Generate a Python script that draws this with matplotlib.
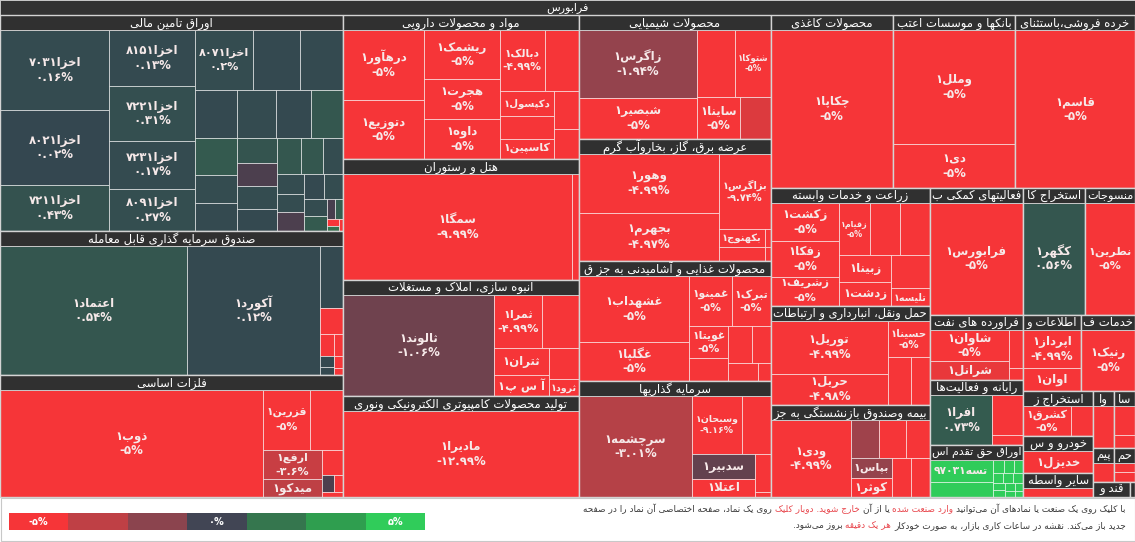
import matplotlib
matplotlib.use("Agg")
import matplotlib.pyplot as plt
from matplotlib.patches import Rectangle

# ---------------------------------------------------------------- data
root_title = "فرابورس"

sector_names = [
    "اوراق تامین مالی", "صندوق سرمایه گذاری قابل معامله", "فلزات اساسی",
    "مواد و محصولات دارویی", "هتل و رستوران", "انبوه سازی، املاک و مستغلات",
    "تولید محصولات کامپیوتری الکترونیکی ونوری", "محصولات شیمیایی",
    "عرضه برق، گاز، بخاروآب گرم", "محصولات غذایی و آشامیدنی به جز ق",
    "سرمایه گذاریها", "محصولات کاغذی", "بانکها و موسسات اعتب",
    "خرده فروشی،باستثنای", "زراعت و خدمات وابسته",
    "حمل ونقل، انبارداری و ارتباطات", "بیمه وصندوق بازنشستگی به جز",
    "فعالیتهای کمکی ب", "استخراج کا", "منسوجات", "فراورده های نفت",
    "رایانه و فعالیت‌ها", "اوراق حق تقدم اس", "اطلاعات و", "خدمات ف",
    "استخراج ز", "خودرو و س", "سایر واسطه", "وا", "سا", "پیم", "حم", "قند و", "",
]
sector_values = [
    74088, 49392, 41846, 33984, 28556, 27376, 23836, 23808, 23424, 23040,
    22272, 21106, 21106, 20760, 18762, 15741, 14628, 11811, 7874, 6350,
    6110, 6110, 4888, 4389, 4158, 3174, 2553, 1700, 1176, 1176, 714, 714, 555, 75,
]

# leaves per sector: (symbol, weight, change %)
s01 = [("اخزا۷۰۳۱", 8640, 0.16), ("اخزا۸۰۲۱", 7992, 0.02), ("اخزا۷۲۱۱", 4968, 0.43),
       ("اخزا۸۱۵۱", 4704, 0.13), ("اخزا۷۲۲۱", 4536, 0.31), ("اخزا۷۲۳۱", 4032, 0.17),
       ("اخزا۸۰۹۱", 3528, 0.27), ("اخزا۸۰۷۱", 3422, 0.2), ("", 2784, 0.1), ("", 2494, 0.15),
       ("", 2000, 0.12), ("", 1900, 0.18), ("", 1650, 0.1), ("", 1519, 0.6), ("", 1512, 0.7),
       ("", 1176, 0.2), ("", 1134, 0.15), ("", 960, 0.5), ("", 920, -0.3), ("", 880, 0.2),
       ("", 880, 0.1), ("", 850, 0.6), ("", 782, 0.6), ("", 714, 0.2), ("", 529, 0.2),
       ("", 500, 0.2), ("", 500, -0.3), ("", 483, 0.1), ("", 450, 0.2), ("", 391, 0.2),
       ("", 336, 0.7), ("", 168, -0.2), ("", 147, 0.8), ("", 80, -5), ("", 60, 1.5), ("", 50, -5)]
s02 = [("اعتماد۱", 24123, 0.54), ("آکورد۱", 17157, 0.12), ("", 1408, 0.1), ("", 572, -5),
       ("", 300, -5), ("", 200, -5), ("", 150, 0.1), ("", 120, 0.1), ("", 100, -5), ("", 60, -5)]
s03 = [("ذوب۱", 27510, -5), ("قزرین۱", 2784, -5), ("", 1914, -5), ("ارفع۱", 1653, -3.6),
       ("میدکو۱", 1026, -3.3), ("", 528, -5), ("", 200, -0.3), ("", 150, -5), ("", 100, -5)]
s04 = [("درهآور۱", 5589, -5), ("دتوزیع۱", 4698, -5), ("ریشمک۱", 3600, -5), ("هجرت۱", 3000, -5),
       ("داوه۱", 2925, -5), ("دبالک۱", 2700, -4.99), ("", 2040, -5), ("دکپسول۱", 1350, -5),
       ("", 1188, -5), ("کاسپین۱", 1080, -5), ("", 925, -5), ("", 725, -5)]
s05 = [("سمگا۱", 24045, -9.99), ("", 735, -5)]
s06 = [("ثالوند۱", 15251, -1.06), ("ثمرا۱", 2544, -4.99), ("", 1961, -5), ("ثتران۱", 1430, -5),
       ("آ س پ۱", 1155, -5), ("", 930, -5), ("ثرود۱", 510, -5)]
s07 = [("مادیرا۱", 20060, -12.99)]
s08 = [("زاگرس۱", 7839, -1.94), ("شبصیر۱", 4797, -5), ("", 2508, -5), ("شتوکا۱", 2310, -5),
       ("ساینا۱", 1806, -5), ("", 1260, -4.2)]
s09 = [("وهور۱", 8062, -4.99), ("بجهرم۱", 6672, -4.97), ("بزاگرس۱", 3848, -9.74),
       ("بکهنوج۱", 782, -5), ("", 644, -5), ("", 102, -5), ("", 84, -5)]
s10 = [("غشهداب۱", 7150, -5), ("غگلپا۱", 4290, -5), ("غمینو۱", 2100, -5), ("تبرک۱", 1950, -5),
       ("غویتا۱", 1216, -5), ("", 864, -5), ("", 836, -5), ("", 684, -5), ("", 540, -5), ("", 234, -5)]
s11 = [("سرچشمه۱", 11200, -3.01), ("وسبحان۱", 2793, -9.16), ("", 1653, -5), ("سدبیر۱", 1550, -0.8),
       ("اعتلا۱", 1116, -5), ("", 570, -5), ("", 75, -5)]
s12 = [("چکاپا۱", 1, -5)]
s13 = [("وملل۱", 13786, -5), ("دی۱", 5246, -5)]
s14 = [("قاسم۱", 1, -5)]
s15 = [("زکشت۱", 2584, -5), ("زفکا۱", 2380, -5), ("زشریف۱", 1972, -5), ("زقیام۱", 1612, -5),
       ("", 1560, -5), ("", 1508, -5), ("زبینا۱", 1352, -5), ("زدشت۱", 1248, -5), ("", 1216, -5),
       ("تلیسه۱", 684, -5)]
s16 = [("توریل۱", 6084, -4.99), ("حریل۱", 3627, -4.98), ("حسینا۱", 1512, -5), ("", 1081, -5), ("", 893, -5)]
s17 = [("ودی۱", 6000, -4.99), ("", 1044, -2.3), ("", 1008, -5), ("", 880, -5), ("بپاس۱", 800, -2.0),
       ("کوثر۱", 760, -5), ("", 741, -5), ("", 702, -5)]
s18 = [("فرابورس۱", 1, -5)]
s19 = [("کگهر۱", 1, 0.56)]
s20 = [("نطرین۱", 1, -5)]
s21 = [("شاوان۱", 2449, -5), ("شرانل۱", 1422, -4.6), ("", 532, -5), ("", 154, -5)]
s22 = [("افرا۱", 3038, 0.73), ("", 1209, -5), ("", 310, -5)]
s23 = [("تسه۹۷۰۳۱", 1426, 5), ("", 930, 5), ("", 150, 5), ("", 130, 5), ("", 120, 5), ("", 110, 5),
       ("", 100, 5), ("", 100, 5), ("", 90, 5), ("", 90, 5), ("", 80, 5), ("", 70, 5), ("", 60, 5), ("", 50, 5)]
s24 = [("اپرداز۱", 2128, -4.99), ("اوان۱", 1288, -5)]
s25 = [("رنیک۱", 1, -5)]
s26 = [("کشرق۱", 1288, -5), ("", 616, -5)]
s27 = [("خدیزل۱", 1, -5)]
s28 = [("", 1, -5)]
s29 = [("", 1, -5)]
s30 = [("", 600, -5), ("", 250, -5)]
s31 = [("", 1, -5)]
s32 = [("", 200, -5), ("", 200, -5)]
s33 = [("", 1, -5)]
s34 = [("", 1, -5)]
sector_leaves = [s01, s02, s03, s04, s05, s06, s07, s08, s09, s10, s11, s12, s13, s14, s15, s16, s17,
                 s18, s19, s20, s21, s22, s23, s24, s25, s26, s27, s28, s29, s30, s31, s32, s33, s34]

legend_values = [-5, -3.33, -1.67, 0, 1.67, 3.33, 5]
legend_colors = ["#f63538", "#bf4045", "#8b444e", "#414554", "#35764e", "#2f9e4f", "#30cc5a"]
legend_labels = ["-۵%", "", "", "۰%", "", "", "۵%"]

footer_line1 = [("با کلیک روی یک صنعت یا نمادهای آن می‌توانید", 0), ("وارد صنعت شده", 1),
                ("یا از آن", 0), ("خارج شوید. دوبار کلیک", 1),
                ("روی یک نماد، صفحه اختصاصی آن نماد را در صفحه", 0)]
footer_line2 = [("جدید باز می‌کند. نقشه در ساعات کاری بازار، به صورت خودکار", 0), ("هر یک دقیقه", 1),
                ("بروز می‌شود.", 0)]

# ---------------------------------------------------------------- Arabic shaping helpers
FORMS = {
    'ء': ('\uFE80', None, None, None), 'آ': ('\uFE81', '\uFE82', None, None),
    'أ': ('\uFE83', '\uFE84', None, None), 'ؤ': ('\uFE85', '\uFE86', None, None),
    'إ': ('\uFE87', '\uFE88', None, None), 'ئ': ('\uFE89', '\uFE8A', '\uFE8B', '\uFE8C'),
    'ا': ('\uFE8D', '\uFE8E', None, None), 'ب': ('\uFE8F', '\uFE90', '\uFE91', '\uFE92'),
    'ة': ('\uFE93', '\uFE94', None, None), 'ت': ('\uFE95', '\uFE96', '\uFE97', '\uFE98'),
    'ث': ('\uFE99', '\uFE9A', '\uFE9B', '\uFE9C'), 'ج': ('\uFE9D', '\uFE9E', '\uFE9F', '\uFEA0'),
    'ح': ('\uFEA1', '\uFEA2', '\uFEA3', '\uFEA4'), 'خ': ('\uFEA5', '\uFEA6', '\uFEA7', '\uFEA8'),
    'د': ('\uFEA9', '\uFEAA', None, None), 'ذ': ('\uFEAB', '\uFEAC', None, None),
    'ر': ('\uFEAD', '\uFEAE', None, None), 'ز': ('\uFEAF', '\uFEB0', None, None),
    'س': ('\uFEB1', '\uFEB2', '\uFEB3', '\uFEB4'), 'ش': ('\uFEB5', '\uFEB6', '\uFEB7', '\uFEB8'),
    'ص': ('\uFEB9', '\uFEBA', '\uFEBB', '\uFEBC'), 'ض': ('\uFEBD', '\uFEBE', '\uFEBF', '\uFEC0'),
    'ط': ('\uFEC1', '\uFEC2', '\uFEC3', '\uFEC4'), 'ظ': ('\uFEC5', '\uFEC6', '\uFEC7', '\uFEC8'),
    'ع': ('\uFEC9', '\uFECA', '\uFECB', '\uFECC'), 'غ': ('\uFECD', '\uFECE', '\uFECF', '\uFED0'),
    'ف': ('\uFED1', '\uFED2', '\uFED3', '\uFED4'), 'ق': ('\uFED5', '\uFED6', '\uFED7', '\uFED8'),
    'ك': ('\uFED9', '\uFEDA', '\uFEDB', '\uFEDC'), 'ل': ('\uFEDD', '\uFEDE', '\uFEDF', '\uFEE0'),
    'م': ('\uFEE1', '\uFEE2', '\uFEE3', '\uFEE4'), 'ن': ('\uFEE5', '\uFEE6', '\uFEE7', '\uFEE8'),
    'ه': ('\uFEE9', '\uFEEA', '\uFEEB', '\uFEEC'), 'و': ('\uFEED', '\uFEEE', None, None),
    'ى': ('\uFEEF', '\uFEF0', None, None), 'ي': ('\uFEF1', '\uFEF2', '\uFEF3', '\uFEF4'),
    'پ': ('\uFB56', '\uFB57', '\uFB58', '\uFB59'), 'چ': ('\uFB7A', '\uFB7B', '\uFB7C', '\uFB7D'),
    'ژ': ('\uFB8A', '\uFB8B', None, None), 'ک': ('\uFB8E', '\uFB8F', '\uFB90', '\uFB91'),
    'گ': ('\uFB92', '\uFB93', '\uFB94', '\uFB95'), 'ی': ('\uFBFC', '\uFBFD', '\uFBFE', '\uFBFF'),
}
LAMALEF = {'ا': ('\uFEFB', '\uFEFC'), 'آ': ('\uFEF5', '\uFEF6'),
           'أ': ('\uFEF7', '\uFEF8'), 'إ': ('\uFEF9', '\uFEFA')}
NUMCH = set('0123456789۰۱۲۳۴۵۶۷۸۹%')


def _joins_fwd(c):
    return c in FORMS and FORMS[c][2] is not None


def shape(s):
    ch = list(s)
    n = len(ch)
    res = []
    i = 0
    while i < n:
        c = ch[i]
        if c == '\u200c':
            i += 1
            continue
        if c not in FORMS:
            res.append(c)
            i += 1
            continue
        prev = ch[i - 1] if i > 0 else None
        jp = prev is not None and _joins_fwd(prev) and FORMS[c][1] is not None
        if c == 'ل' and i + 1 < n and ch[i + 1] in LAMALEF:
            lig = LAMALEF[ch[i + 1]]
            res.append(lig[1] if jp else lig[0])
            i += 2
            continue
        nxt = ch[i + 1] if i + 1 < n else None
        jn = _joins_fwd(c) and nxt is not None and nxt in FORMS
        iso, fin, ini, med = FORMS[c]
        res.append(med if (jp and jn) else fin if jp else ini if jn else iso)
        i += 1
    return res


def rtl(s):
    g = shape(s)[::-1]
    out, run = [], []
    for c in g:
        if c in NUMCH or (c == '.' and run):
            run.append(c)
        else:
            if run:
                out.extend(run[::-1])
                run = []
            out.append(c)
    if run:
        out.extend(run[::-1])
    return ''.join(out)


FA = str.maketrans('0123456789', '۰۱۲۳۴۵۶۷۸۹')


def pct(v):
    s = f"{v:.2f}".rstrip('0').rstrip('.')
    return s.translate(FA) + '%'


# ---------------------------------------------------------------- colours
def _hex(c):
    c = c.lstrip('#')
    return [int(c[i:i + 2], 16) / 255 for i in (0, 2, 4)]


NEG = [(0.0, '#3e3e4e'), (1.667, '#8b444e'), (3.333, '#bf4045'), (5.0, '#f63538')]
POS = [(0.0, '#344650'), (1.667, '#35764e'), (3.333, '#2f9e4f'), (5.0, '#30cc5a')]


def color_for(v):
    anchors = POS if v >= 0 else NEG
    a = min(abs(v), 5.0)
    for (t0, c0), (t1, c1) in zip(anchors[:-1], anchors[1:]):
        if a <= t1:
            f = (a - t0) / (t1 - t0)
            p, q = _hex(c0), _hex(c1)
            return tuple(p[k] + (q[k] - p[k]) * f for k in range(3))
    return _hex(anchors[-1][1])


# ---------------------------------------------------------------- squarified treemap (d3 style)
PHI = (1 + 5 ** 0.5) / 2


def squarify(values, x0, y0, x1, y1, ratio=PHI):
    n = len(values)
    rects = [None] * n
    value = float(sum(values))
    i0 = i1 = 0
    while i0 < n:
        dx, dy = max(x1 - x0, 1e-9), max(y1 - y0, 1e-9)
        sumv = values[i1]
        i1 += 1
        minv = maxv = sumv
        alpha = max(dy / dx, dx / dy) / (value * ratio)
        beta = sumv * sumv * alpha
        minratio = max(maxv / beta, beta / minv)
        while i1 < n:
            nv = values[i1]
            s = sumv + nv
            mn, mx = min(minv, nv), max(maxv, nv)
            beta = s * s * alpha
            nr = max(mx / beta, beta / mn)
            if nr > minratio:
                break
            sumv, minv, maxv, minratio = s, mn, mx, nr
            i1 += 1
        if dx < dy:
            yb = y0 + dy * sumv / value
            xx = x0
            for k in range(i0, i1):
                w = dx * values[k] / sumv
                rects[k] = (xx, y0, xx + w, yb)
                xx += w
            y0 = yb
        else:
            xb = x0 + dx * sumv / value
            yy = y0
            for k in range(i0, i1):
                h = dy * values[k] / sumv
                rects[k] = (x0, yy, xb, yy + h)
                yy += h
            x0 = xb
        value -= sumv
        i0 = i1
    return rects


def tile_below_header(values, x0, y0, x1, y1, head):
    """Tile in the full rectangle, then squeeze vertically under the header bar."""
    rects = squarify(values, x0, y0, x1, y1)
    top = min(y0 + head, y1)
    k = (y1 - top) / (y1 - y0) if y1 > y0 else 0
    return [(a, top + (b - y0) * k, c, top + (d - y0) * k) for a, b, c, d in rects]


# ---------------------------------------------------------------- figure
W, H = 1135, 542
TOP_H, HEAD_H, MAP_BOTTOM = 15, 15, 497
plt.rcParams['font.family'] = ['DejaVu Sans']
fig = plt.figure(figsize=(W / 100, H / 100), dpi=100)
fig.patch.set_facecolor('white')
ax = fig.add_axes([0, 0, 1, 1])
ax.set_xlim(0, W)
ax.set_ylim(H, 0)
ax.axis('off')
R = fig.canvas.get_renderer()
PX = 100 / 72.0


def text_w(t):
    return t.get_window_extent(R).width


def fit_text(x, y, s, fs, maxw, **kw):
    t = ax.text(x, y, s, fontsize=fs, ha='center', va='center', **kw)
    w = text_w(t)
    if w > maxw > 0:
        t.set_fontsize(fs * maxw / w)
    return t


# background of map
ax.add_patch(Rectangle((0, 0), W, MAP_BOTTOM, facecolor='#d4d4d4', edgecolor='none'))
# root title bar
ax.add_patch(Rectangle((0, 0), W, TOP_H, facecolor='#333333', edgecolor='#d4d4d4', lw=0.6))
fit_text(W / 2, TOP_H / 2 + 0.5, rtl(root_title), 8, W, color='white')

order = sorted(range(len(sector_values)), key=lambda i: -sector_values[i])
srects = tile_below_header([sector_values[i] for i in order], 0, 0, W, MAP_BOTTOM, TOP_H)

for si, (sx0, sy0, sx1, sy1) in zip(order, srects):
    leaves = sorted(sector_leaves[si], key=lambda t: -t[1])
    if sy1 - sy0 > HEAD_H + 0.5:
        lrects = tile_below_header([t[1] for t in leaves], sx0, sy0, sx1, sy1, HEAD_H)
        for (name, wgt, ch), (x0, y0, x1, y1) in zip(leaves, lrects):
            ax.add_patch(Rectangle((x0, y0), x1 - x0, y1 - y0, facecolor=color_for(ch),
                                   edgecolor=(1, 1, 1, 0.55), lw=0.7))
            if not name:
                continue
            w, h = x1 - x0, y1 - y0
            cx, cy = (x0 + x1) / 2, (y0 + y1) / 2
            two = h >= 28
            base = 8.5
            t1 = ax.text(cx, cy, rtl(name), fontsize=base, ha='center', va='center',
                         color='#f6e9e9', fontweight='bold')
            fs = base * min(1.0, 0.86 * w / max(text_w(t1), 1))
            t2 = None
            if two:
                t2 = ax.text(cx, cy, pct(ch), fontsize=base, ha='center', va='center',
                             color='#f6e9e9', fontweight='bold')
                fs = min(fs, base * 0.86 * w / max(text_w(t2), 1))
                fs = min(fs, h / 2.6 / PX)
            else:
                fs = min(fs, h / 1.35 / PX)
            if fs < 4.2:
                t1.remove()
                if t2 is not None:
                    t2.remove()
                continue
            t1.set_fontsize(fs)
            if two:
                t2.set_fontsize(fs)
                d = 0.62 * fs * PX
                t1.set_y(cy - d)
                t2.set_y(cy + d)
    # header bar
    hh = min(HEAD_H, sy1 - sy0)
    ax.add_patch(Rectangle((sx0, sy0), sx1 - sx0, hh, facecolor='#303030',
                           edgecolor='#d4d4d4', lw=0.6))
    if sector_names[si] and sx1 - sx0 > 8:
        fit_text((sx0 + sx1) / 2, sy0 + hh / 2 + 0.5, rtl(sector_names[si]), 8.4,
                 sx1 - sx0 - 4, color='white')
    ax.add_patch(Rectangle((sx0, sy0), sx1 - sx0, sy1 - sy0, fill=False,
                           edgecolor='#d4d4d4', lw=1.0))

# ---------------------------------------------------------------- footer
ax.add_patch(Rectangle((0.5, MAP_BOTTOM + 0.5), W - 1, H - MAP_BOTTOM - 1.5, facecolor='white',
                       edgecolor='#c8c8c8', lw=0.8))
bx0, bx1, by0, by1 = 9, 425, 513, 530
bw = (bx1 - bx0) / len(legend_values)
for k, (v, c, lab) in enumerate(zip(legend_values, legend_colors, legend_labels)):
    ax.add_patch(Rectangle((bx0 + k * bw, by0), bw, by1 - by0, facecolor=c, edgecolor='none'))
    if lab:
        ax.text(bx0 + (k + 0.5) * bw, (by0 + by1) / 2 + 0.5, lab, fontsize=7, ha='center',
                va='center', color='white', fontweight='bold')

seg_colors = ['#3a3a3a', '#e8474d']
for line, yy in ((footer_line1, 509), (footer_line2, 526)):
    xr = 1126
    for txt, ci in line:
        t = ax.text(xr, yy, rtl(txt), fontsize=6.4, ha='right', va='center', color=seg_colors[ci])
        xr -= text_w(t) + 3

fig.savefig('out.png', dpi=100, facecolor='white')
